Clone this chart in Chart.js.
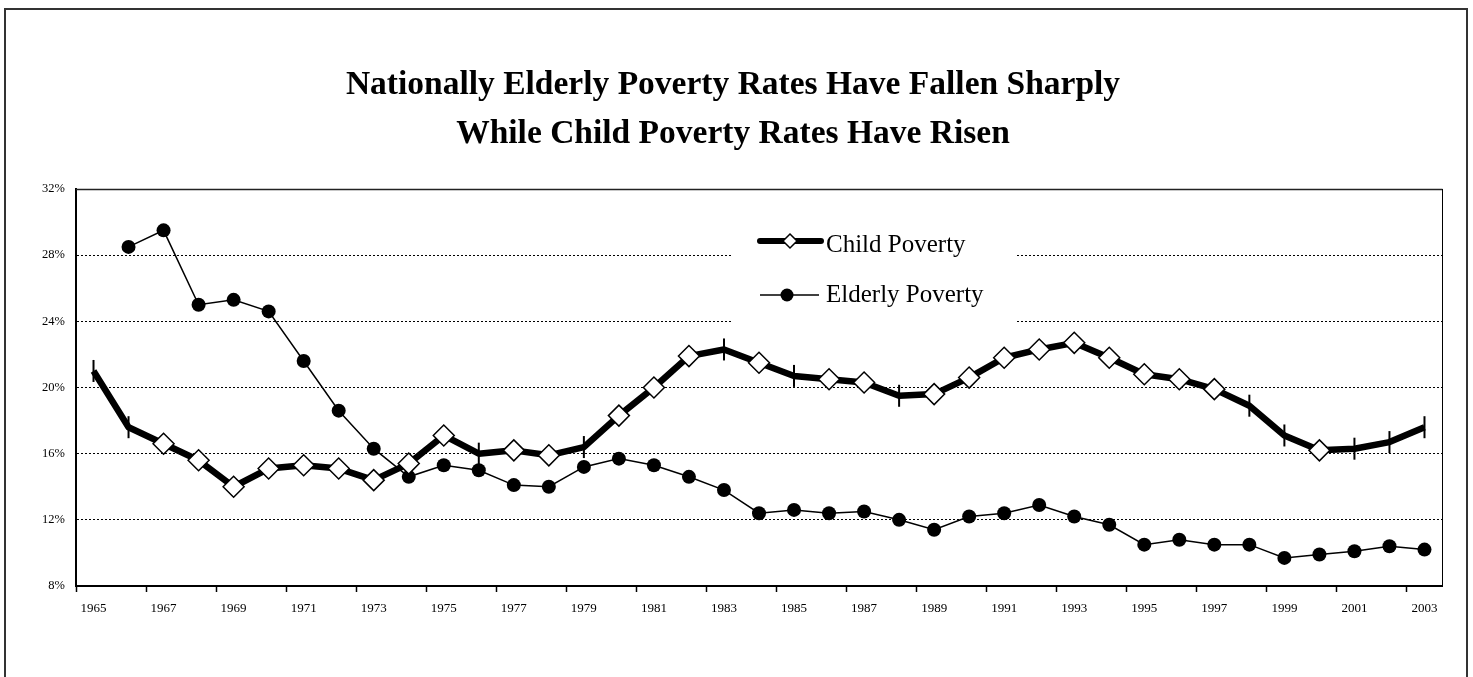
<!DOCTYPE html>
<html>
<head>
<meta charset="utf-8">
<title>Child and Elderly Poverty Rates</title>
<script src="https://cdn.jsdelivr.net/npm/chart.js@4.4.1/dist/chart.umd.min.js"></script>
<style>
  html, body { margin: 0; padding: 0; background: #fff; overflow: hidden; }
  #wrap { position: relative; width: 1473px; height: 677px; }
</style>
</head>
<body>
<div id="wrap"><canvas id="povertyChart" width="1473" height="677"></canvas></div>
<script>
const years = [
  "1965", "1966", "1967", "1968", "1969", "1970", "1971", "1972", "1973", "1974",
  "1975", "1976", "1977", "1978", "1979", "1980", "1981", "1982", "1983", "1984",
  "1985", "1986", "1987", "1988", "1989", "1990", "1991", "1992", "1993", "1994",
  "1995", "1996", "1997", "1998", "1999", "2000", "2001", "2002", "2003"
];

// percent of children (under 18) below the poverty line
const childPoverty = [
  21.0, 17.6, 16.6, 15.6, 14.0, 15.1, 15.3, 15.1, 14.4, 15.4,
  17.1, 16.0, 16.2, 15.9, 16.4, 18.3, 20.0, 21.9, 22.3, 21.5,
  20.7, 20.5, 20.3, 19.5, 19.6, 20.6, 21.8, 22.3, 22.7, 21.8,
  20.8, 20.5, 19.9, 18.9, 17.1, 16.2, 16.3, 16.7, 17.6
];

// percent of persons 65+ below the poverty line (no 1965 figure)
const elderlyPoverty = [
  null, 28.5, 29.5, 25.0, 25.3, 24.6, 21.6, 18.6, 16.3, 14.6,
  15.3, 15.0, 14.1, 14.0, 15.2, 15.7, 15.3, 14.6, 13.8, 12.4,
  12.6, 12.4, 12.5, 12.0, 11.4, 12.2, 12.4, 12.9, 12.2, 11.7,
  10.5, 10.8, 10.5, 10.5, 9.7, 9.9, 10.1, 10.4, 10.2
];

// child series years marked with a plain tick instead of a diamond
const childTickYears = ["1965", "1966", "1976", "1979", "1983", "1985", "1988", "1998", "1999", "2001", "2002", "2003"];

const yTicks = [8, 12, 16, 20, 24, 28, 32];

const titleLines = [
  "Nationally Elderly Poverty Rates Have Fallen Sharply",
  "While Child Poverty Rates Have Risen"
];

const serif = "'Liberation Serif', 'Times New Roman', serif";

const isTick = years.map(y => childTickYears.includes(y));

// white page, outer frame and the two-line heading
const pageFrame = {
  id: "pageFrame",
  beforeDraw(chart) {
    const c = chart.ctx;
    c.save();
    c.fillStyle = "#fff";
    c.fillRect(0, 0, chart.width, chart.height);
    c.strokeStyle = "#333";
    c.lineWidth = 2;
    c.strokeRect(5, 9, 1462, 720);
    c.fillStyle = "#000";
    c.font = "bold 33.5px " + serif;
    c.textAlign = "center";
    c.textBaseline = "alphabetic";
    c.fillText(titleLines[0], 733, 94);
    c.fillText(titleLines[1], 733, 143);
    c.restore();
  }
};

// top/right edges of the plot plus the boxed legend over the grid
const plotExtras = {
  id: "plotExtras",
  beforeDatasetsDraw(chart) {
    const c = chart.ctx;
    const a = chart.chartArea;
    c.save();
    c.strokeStyle = "#222";
    c.lineWidth = 1.5;
    c.beginPath();
    c.moveTo(a.left, a.top + 0.5);
    c.lineTo(a.right + 0.5, a.top + 0.5);
    c.stroke();
    c.lineWidth = 1;
    c.strokeStyle = "#000";
    c.beginPath();
    c.moveTo(a.right + 0.5, a.top);
    c.lineTo(a.right + 0.5, a.bottom);
    c.stroke();

    c.fillStyle = "#fff";
    c.fillRect(732, 200, 283, 140);

    const ds = chart.data.datasets;
    // child poverty sample
    c.strokeStyle = "#000";
    c.lineCap = "round";
    c.lineWidth = 6;
    c.beginPath();
    c.moveTo(760, 241);
    c.lineTo(821, 241);
    c.stroke();
    c.lineWidth = 1.5;
    c.fillStyle = "#fff";
    c.beginPath();
    c.moveTo(790, 234);
    c.lineTo(797, 241);
    c.lineTo(790, 248);
    c.lineTo(783, 241);
    c.closePath();
    c.fill();
    c.stroke();
    // elderly poverty sample
    c.lineCap = "butt";
    c.lineWidth = 1.5;
    c.beginPath();
    c.moveTo(760, 295);
    c.lineTo(819, 295);
    c.stroke();
    c.fillStyle = "#000";
    c.beginPath();
    c.arc(787, 295, 6.5, 0, Math.PI * 2);
    c.fill();

    c.font = "25px " + serif;
    c.textAlign = "left";
    c.textBaseline = "alphabetic";
    c.fillText(ds[0].label, 826, 252);
    c.fillText(ds[1].label, 826, 302);
    c.restore();
  }
};

const ctx = document.getElementById("povertyChart").getContext("2d");

new Chart(ctx, {
  type: "line",
  data: {
    labels: years,
    datasets: [
      {
        label: "Child Poverty",
        data: childPoverty,
        borderColor: "#000",
        borderWidth: 6.5,
        borderJoinStyle: "round",
        tension: 0,
        pointStyle: isTick.map(t => (t ? "line" : "rectRot")),
        pointRotation: isTick.map(t => (t ? 90 : 0)),
        pointRadius: isTick.map(t => (t ? 11 : 10.5)),
        pointBorderWidth: isTick.map(t => (t ? 2 : 1.5)),
        pointBackgroundColor: "#fff",
        pointBorderColor: "#000"
      },
      {
        label: "Elderly Poverty",
        data: elderlyPoverty,
        borderColor: "#000",
        borderWidth: 1.5,
        tension: 0,
        pointStyle: "circle",
        pointRadius: 7,
        pointBorderWidth: 0,
        pointBackgroundColor: "#000",
        pointBorderColor: "#000"
      }
    ]
  },
  options: {
    responsive: false,
    animation: false,
    devicePixelRatio: 1,
    layout: { padding: { top: 189, right: 31, left: 0, bottom: 0 } },
    plugins: {
      legend: { display: false },
      title: { display: false },
      tooltip: { enabled: false }
    },
    scales: {
      x: {
        type: "category",
        offset: true,
        grid: {
          offset: true,
          drawOnChartArea: false,
          drawTicks: true,
          tickLength: 6,
          tickWidth: 1.5,
          tickColor: c => (c.index % 2 === 0 ? "#000" : "rgba(0,0,0,0)")
        },
        border: { color: "#000", width: 2 },
        ticks: {
          autoSkip: false,
          maxRotation: 0,
          padding: 9,
          color: "#000",
          font: { family: serif, size: 13 },
          callback: function (v, i) {
            return i % 2 === 0 ? this.getLabelForValue(v) : "";
          }
        },
        afterFit: s => { s.height = 91; }
      },
      y: {
        min: yTicks[0],
        max: yTicks[yTicks.length - 1],
        afterBuildTicks: s => { s.ticks = yTicks.map(v => ({ value: v })); },
        grid: { color: "#000", lineWidth: 1, drawTicks: false },
        border: { color: "#000", width: 2, dash: [2, 2] },
        ticks: {
          padding: 11,
          color: "#000",
          font: { family: serif, size: 12.5 },
          callback: v => v + "%"
        },
        afterFit: s => { s.width = 76; }
      }
    }
  },
  plugins: [pageFrame, plotExtras]
});
</script>
</body>
</html>
